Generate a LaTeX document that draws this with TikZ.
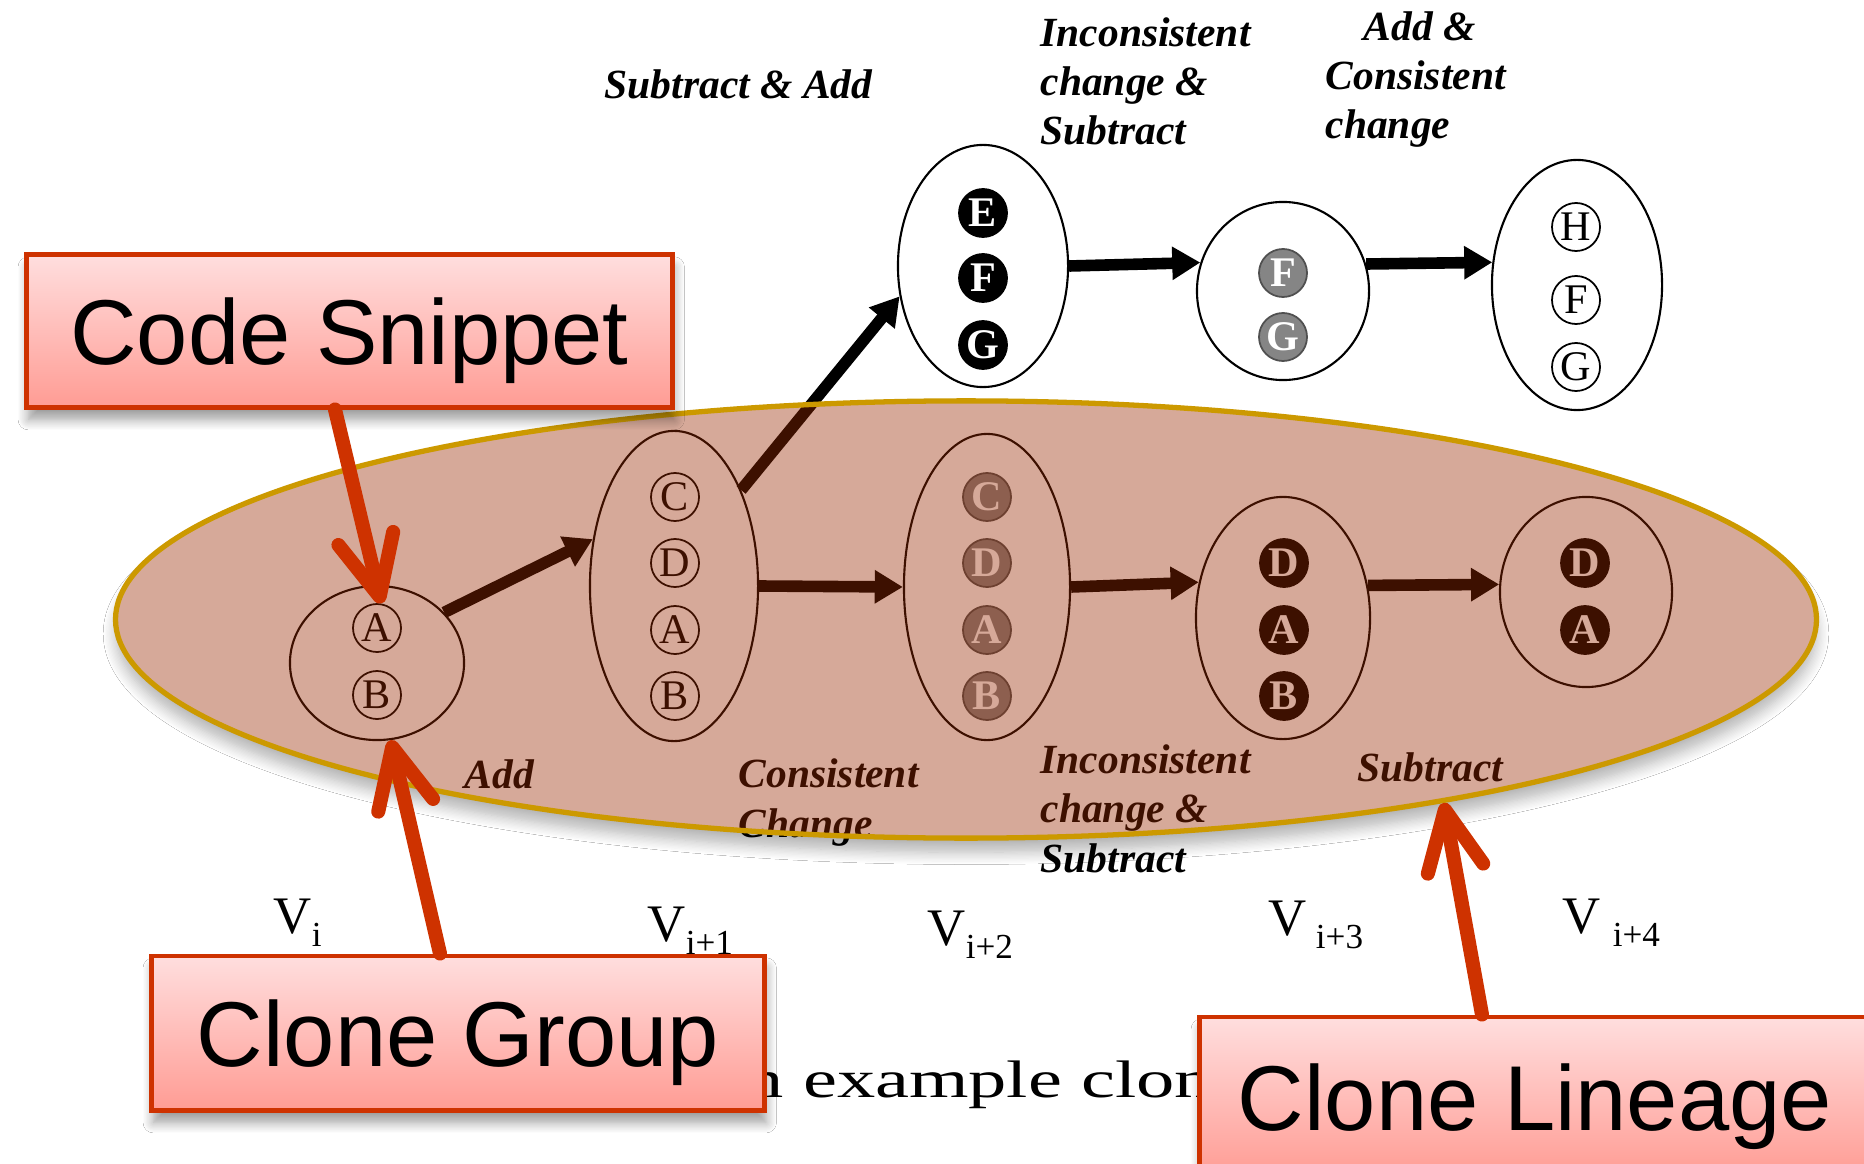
\documentclass[tikz,border=0pt]{standalone}
\usepackage{fontspec}
\setmainfont{Liberation Serif}
\newfontfamily\calloutfont{Liberation Sans}
\usetikzlibrary{arrows.meta,shapes.geometric,shadows.blur}
\definecolor{ovl}{RGB}{153,40,0}
\definecolor{lingold}{RGB}{204,153,0}
\definecolor{calred}{RGB}{206,50,0}
\definecolor{boxtop}{RGB}{255,222,222}
\definecolor{boxbot}{RGB}{255,156,148}
\definecolor{midgray}{RGB}{133,133,133}
\newcommand\vsub[1]{\raisebox{-3.7pt}{\fontsize{10}{10}\selectfont #1}}
\begin{document}
\begin{tikzpicture}[x=0.01cm,y=-0.01cm,
  version/.style={ellipse, draw=black, line width=0.6pt, inner sep=0pt},
  snip/.style={circle, draw=black, line width=0.5pt, minimum size=0.48cm, inner sep=0pt,
    font=\fontsize{12}{12}\selectfont},
  snipblack/.style={snip, fill=black, text=white, font=\fontsize{12}{12}\selectfont\bfseries},
  snipgray/.style={snip, fill=midgray, draw=midgray!60!black, text=white, font=\fontsize{12}{12}\selectfont\bfseries},
  evo/.style={line width=3.3pt, -{Triangle[length=8pt,width=9pt]}},
  lbl/.style={font=\fontsize{11.8}{14}\selectfont\bfseries\itshape, align=left, inner sep=0pt, anchor=base west},
  vlbl/.style={font=\fontsize{15}{15}\selectfont, inner sep=0pt, anchor=base west},
  callout/.style={draw=calred, line width=1.4pt, top color=boxtop, bottom color=boxbot,
    inner sep=0pt, text depth=0pt, font=\calloutfont\fontsize{26.2}{26.2}\selectfont,
    blur shadow={shadow blur steps=10, shadow xshift=0.5pt, shadow yshift=-3.5pt, shadow blur radius=3pt, shadow opacity=40}},
  pointer/.style={draw=calred, line width=4pt, line cap=round, -{Straight Barb[length=17pt,width=16pt,round]}},
]
\useasboundingbox (0,0) rectangle (1864,1164);
\clip (0,0) rectangle (1864,1164);
\fill[white] (0,0) rectangle (1864,1164);

% backdrop of the lineage ellipse (shadow + white)
\node[ellipse, fill=white, inner sep=0pt, minimum width=17cm, minimum height=4.37cm,
  blur shadow={shadow blur steps=10, shadow xshift=0pt, shadow yshift=-4pt, shadow blur radius=3.5pt, shadow opacity=30}]
  (lineagebg) at (966,619.5) {};

% version ellipses
\node[version, minimum width=1.74cm, minimum height=1.54cm] (E1) at (377,663) {};
\node[version, minimum width=1.68cm, minimum height=3.10cm] (E2) at (674,586) {};
\node[version, minimum width=1.66cm, minimum height=3.06cm] (E3) at (987,587) {};
\node[version, minimum width=1.74cm, minimum height=2.42cm] (E4) at (1283,618) {};
\node[version, minimum width=1.72cm, minimum height=1.90cm] (E5) at (1586,592) {};
\node[version, minimum width=1.70cm, minimum height=2.42cm] (U1) at (983,266) {};
\node[version, minimum width=1.72cm, minimum height=1.78cm] (U2) at (1283,291) {};
\node[version, minimum width=1.70cm, minimum height=2.50cm] (U3) at (1577,285) {};

% code snippets
\node[snip] (a1) at (377,628) {A};
\node[snip] (b1) at (377,695) {B};
\node[snip] (c2) at (675,497) {C};
\node[snip] (d2) at (675,563) {D};
\node[snip] (a2) at (675,630) {A};
\node[snip] (b2) at (675,696) {B};
\node[snipgray] (c3) at (987,497) {C};
\node[snipgray] (d3) at (987,563) {D};
\node[snipgray] (a3) at (987,630) {A};
\node[snipgray] (b3) at (987,696) {B};
\node[snipblack] (d4) at (1284,563) {D};
\node[snipblack] (a4) at (1284,630) {A};
\node[snipblack] (b4) at (1284,696) {B};
\node[snipblack] (d5) at (1585,563) {D};
\node[snipblack] (a5) at (1585,630) {A};
\node[snipblack] (e6) at (983,213) {E};
\node[snipblack] (f6) at (983,278) {F};
\node[snipblack] (g6) at (983,345) {G};
\node[snipgray] (f7) at (1283,273) {F};
\node[snipgray] (g7) at (1283,337) {G};
\node[snip] (h8) at (1576,227) {H};
\node[snip] (f8) at (1576,300) {F};
\node[snip] (g8) at (1576,367) {G};

% evolution arrows
\draw[evo] (E1.37) -- (E2.150);
\draw[evo] (E2.55) -- (U1.200);
\draw[evo] (E2.east) -- (E3.west);
\draw[evo] (E3.east) -- (E4.157);
\draw[evo] (E4.21) -- (E5.175);
\draw[evo] (U1.east) -- (U2.161);
\draw[evo] (U2.18) -- (U3.165);

% change labels (anchor = baseline of the last line)
\node[lbl] (lsa) at (604,99) {Subtract \& Add};
\node[lbl] (lict) at (1040,145) {Inconsistent\\change \&\\Subtract};
\node[lbl] (lac) at (1325,139) {\hspace*{10.8pt}Add \&\\Consistent\\change};
\node[lbl] (ladd) at (464,788) {Add};
\node[lbl] (lcc) at (738,837) {Consistent\\Change};
\node[lbl] (licb) at (1040,872) {Inconsistent\\change \&\\Subtract};
\node[lbl] (lsub) at (1357,781) {Subtract};

% version labels
\node[vlbl] (v0) at (273,933) {V\vsub{i}};
\node[vlbl] (v1) at (647,941) {V\vsub{i+1}};
\node[vlbl] (v2) at (927,945) {V\vsub{i+2}};
\node[vlbl] (v3) at (1268,935) {V\hspace{2.6pt}\vsub{i+3}};
\node[vlbl] (v4) at (1562,933) {V\hspace{3.4pt}\vsub{i+4}};

% caption fragment
\node[vlbl] (cap) at (745,1097) {\scalebox{1.45}[1]{n example clone}};

% clone lineage overlay
\node[ellipse, inner sep=0pt, minimum width=17cm, minimum height=4.37cm,
  fill=ovl, fill opacity=0.4, draw=lingold, line width=1.5pt] (lineage) at (966,619.5) {};

% callouts
\node[callout, minimum width=6.45cm, minimum height=1.52cm] (code) at (349.5,331) {Code Snippet};
\node[callout, minimum width=6.12cm, minimum height=1.54cm] (group) at (458,1033) {Clone Group};
\node[callout, minimum width=6.70cm, minimum height=1.60cm] (lin) at (1535,1097) {Clone Lineage};

% pointers
\draw[pointer] ([xshift=-0.145cm]code.south) -- (a1.80);
\draw[pointer] ([xshift=-0.18cm]group.north) -- (E1.-80);
\draw[pointer] ([xshift=-0.53cm]lin.north) -- (lineage.-21);
\end{tikzpicture}
\end{document}
